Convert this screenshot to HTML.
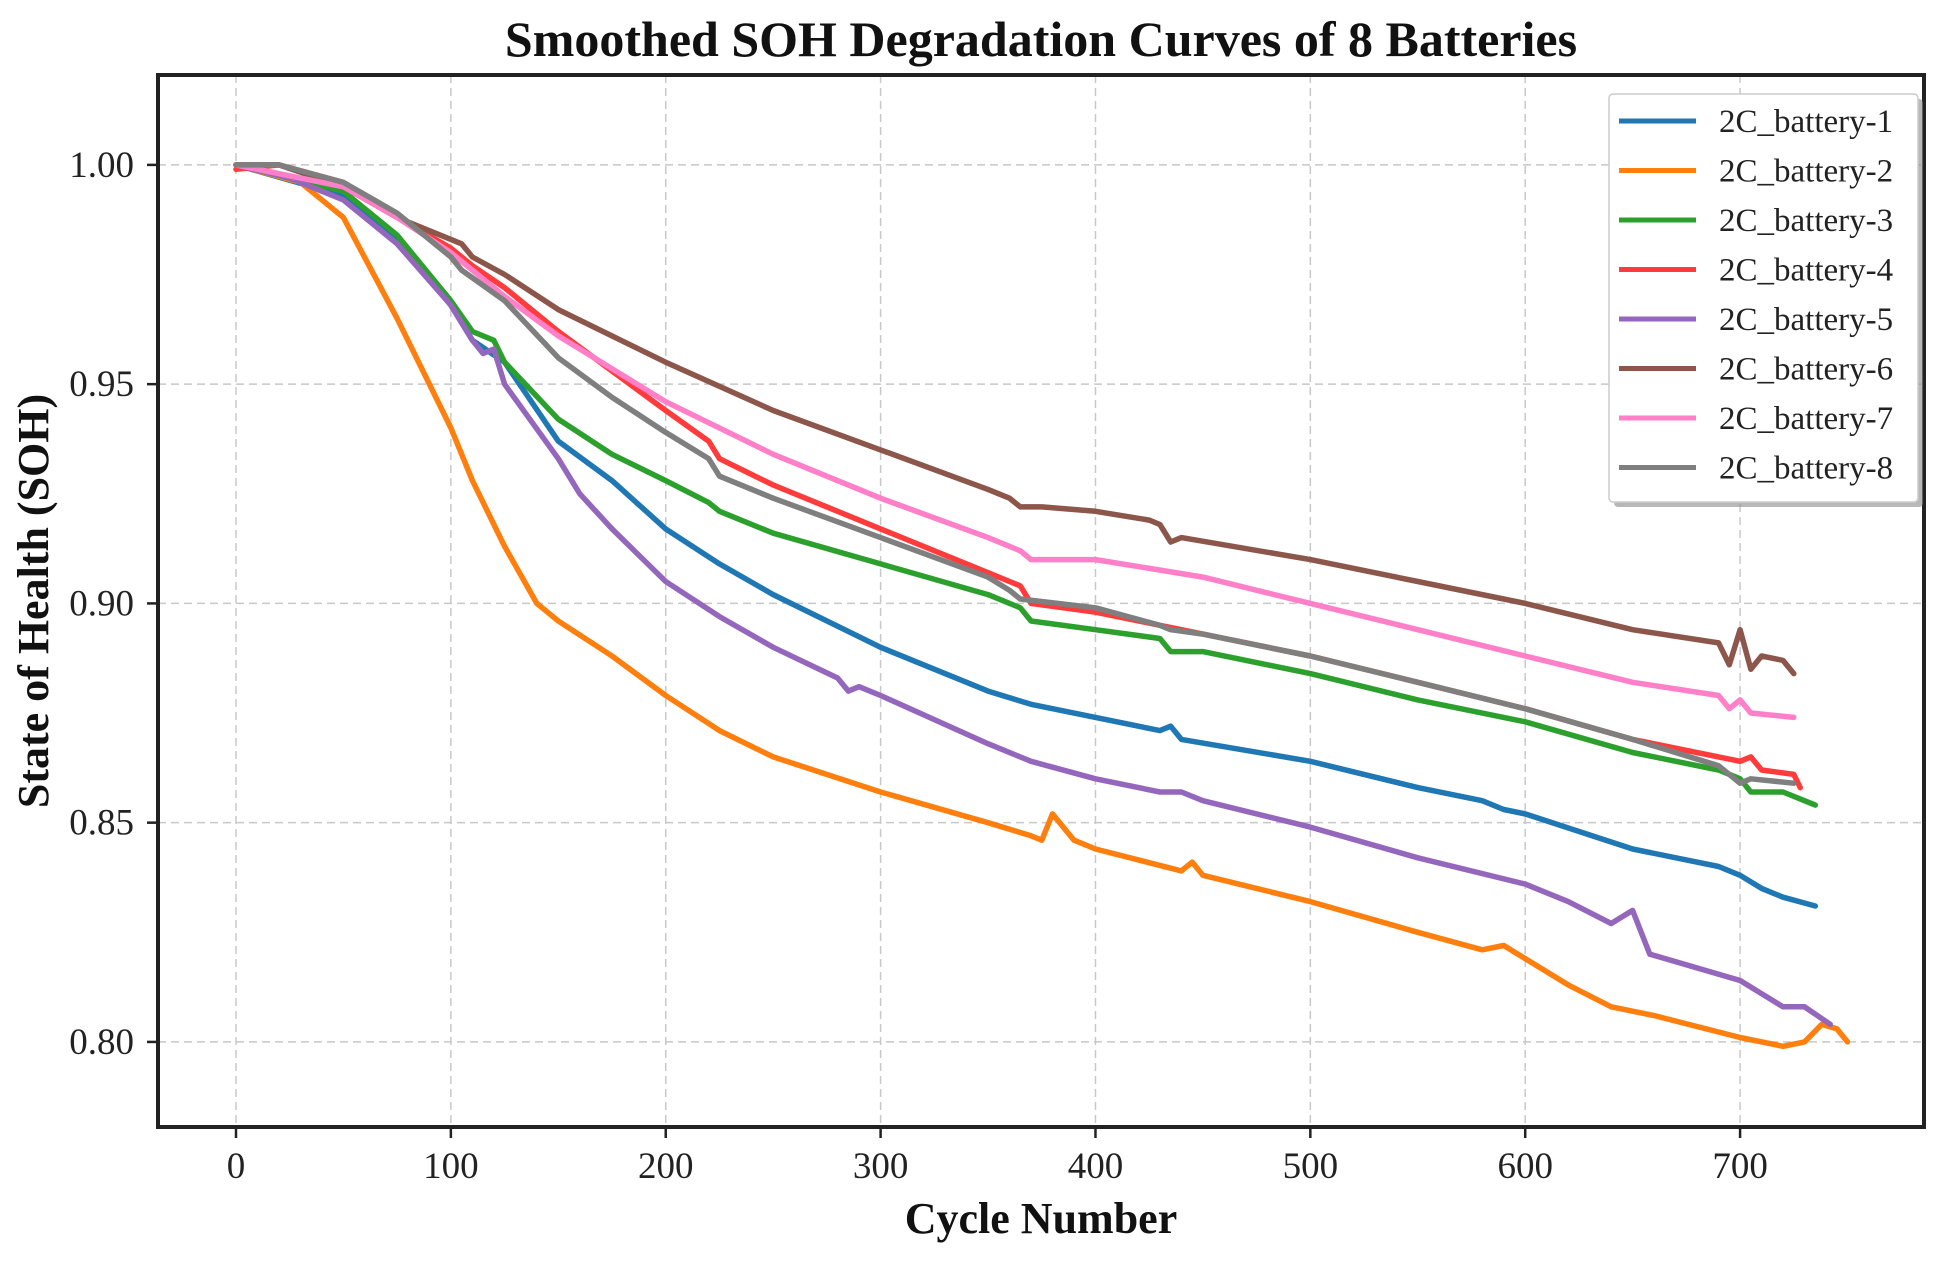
<!DOCTYPE html>
<html><head><meta charset="utf-8"><style>
html,body{margin:0;padding:0;background:#fff;}
svg{display:block;font-family:"Liberation Serif",serif;}
</style></head><body>
<svg id="chart" width="1950" height="1262" viewBox="0 0 1950 1262"></svg>
<script>
const seriesNames=["2C_battery-1","2C_battery-2","2C_battery-3","2C_battery-4","2C_battery-5","2C_battery-6","2C_battery-7","2C_battery-8"];
const seriesColors=["#1f77b4","#ff7f0e","#2ca02c","#ff3b3b","#9467bd","#8c564b","#ff7fc8","#7f7f7f"];
const xTicks=[0,100,200,300,400,500,600,700];
const yTicks=[0.80,0.85,0.90,0.95,1.00];
const b1=[[0,1.0],[50,0.993],[75,0.983],[100,0.968],[110,0.960],[125,0.955],[150,0.937],[175,0.928],[200,0.917],[225,0.909],[250,0.902],[300,0.890],[350,0.880],[370,0.877],[400,0.874],[430,0.871],[435,0.872],[440,0.869],[500,0.864],[550,0.858],[580,0.855],[590,0.853],[600,0.852],[650,0.844],[690,0.840],[700,0.838],[710,0.835],[720,0.833],[735,0.831]];
const b2=[[0,1.0],[30,0.996],[50,0.988],[75,0.965],[100,0.940],[110,0.928],[125,0.913],[140,0.900],[150,0.896],[175,0.888],[200,0.879],[225,0.871],[250,0.865],[300,0.857],[350,0.850],[370,0.847],[375,0.846],[380,0.852],[390,0.846],[400,0.844],[440,0.839],[445,0.841],[450,0.838],[500,0.832],[550,0.825],[580,0.821],[590,0.822],[600,0.819],[620,0.813],[640,0.808],[660,0.806],[700,0.801],[720,0.799],[730,0.800],[738,0.804],[745,0.803],[750,0.800]];
const b3=[[0,1.0],[50,0.994],[75,0.984],[100,0.969],[110,0.962],[120,0.960],[125,0.955],[150,0.942],[175,0.934],[200,0.928],[220,0.923],[225,0.921],[230,0.920],[250,0.916],[300,0.909],[350,0.902],[365,0.899],[370,0.896],[400,0.894],[430,0.892],[435,0.889],[450,0.889],[500,0.884],[550,0.878],[600,0.873],[650,0.866],[690,0.862],[700,0.860],[705,0.857],[720,0.857],[735,0.854]];
const b4=[[0,0.999],[20,1.0],[50,0.996],[75,0.988],[100,0.981],[110,0.977],[125,0.972],[150,0.962],[175,0.953],[200,0.944],[220,0.937],[225,0.933],[250,0.927],[300,0.917],[350,0.907],[365,0.904],[370,0.900],[400,0.898],[430,0.895],[450,0.893],[500,0.888],[550,0.882],[600,0.876],[650,0.869],[690,0.865],[700,0.864],[705,0.865],[710,0.862],[725,0.861],[728,0.858]];
const b5=[[0,1.0],[25,0.997],[50,0.992],[75,0.982],[100,0.968],[110,0.960],[115,0.957],[120,0.958],[125,0.950],[150,0.933],[160,0.925],[175,0.917],[200,0.905],[225,0.897],[250,0.890],[280,0.883],[285,0.880],[290,0.881],[300,0.879],[350,0.868],[370,0.864],[400,0.860],[430,0.857],[440,0.857],[450,0.855],[500,0.849],[550,0.842],[600,0.836],[620,0.832],[640,0.827],[650,0.830],[658,0.820],[700,0.814],[710,0.811],[720,0.808],[730,0.808],[742,0.804]];
const b6=[[0,1.0],[20,1.0],[50,0.995],[75,0.988],[100,0.983],[105,0.982],[110,0.979],[125,0.975],[150,0.967],[200,0.955],[250,0.944],[300,0.935],[350,0.926],[360,0.924],[365,0.922],[375,0.922],[400,0.921],[425,0.919],[430,0.918],[435,0.914],[440,0.915],[500,0.910],[550,0.905],[600,0.900],[650,0.894],[690,0.891],[695,0.886],[700,0.894],[705,0.885],[710,0.888],[720,0.887],[725,0.884]];
const b7=[[0,1.0],[50,0.995],[75,0.988],[100,0.980],[125,0.970],[150,0.961],[200,0.946],[250,0.934],[300,0.924],[350,0.915],[365,0.912],[370,0.910],[400,0.910],[450,0.906],[500,0.900],[550,0.894],[600,0.888],[650,0.882],[690,0.879],[695,0.876],[700,0.878],[705,0.875],[725,0.874]];
const b8=[[0,1.0],[20,1.0],[50,0.996],[75,0.989],[100,0.979],[105,0.976],[125,0.969],[150,0.956],[175,0.947],[200,0.939],[220,0.933],[225,0.929],[250,0.924],[300,0.915],[350,0.906],[360,0.903],[365,0.901],[400,0.899],[430,0.895],[435,0.894],[450,0.893],[500,0.888],[550,0.882],[600,0.876],[650,0.869],[690,0.863],[700,0.859],[705,0.860],[725,0.859]];
const allSeries=[b1,b2,b3,b4,b5,b6,b7,b8];

const NS="http://www.w3.org/2000/svg";
const svg=document.getElementById('chart');
const L=158,R=1924,T=75,B=1127;
const xMin=-36.3,xMax=785.6,yMin=0.7806,yMax=1.0205;
function sx(v){return L+(v-xMin)/(xMax-xMin)*(R-L);}
function sy(v){return B-(v-yMin)/(yMax-yMin)*(B-T);}
function mk(tag,attrs,parent){const e=document.createElementNS(NS,tag);for(const k in attrs)e.setAttribute(k,attrs[k]);(parent||svg).appendChild(e);return e;}

const grid=mk('g',{});


xTicks.forEach(t=>{mk('line',{x1:sx(t),x2:sx(t),y1:T,y2:B,stroke:'#c8c8c8','stroke-width':1.5,'stroke-dasharray':'8,5'},grid);});
yTicks.forEach(t=>{mk('line',{x1:L,x2:R,y1:sy(t),y2:sy(t),stroke:'#c8c8c8','stroke-width':1.5,'stroke-dasharray':'8,5'},grid);});

const lines=mk('g',{});


allSeries.forEach((s,i)=>{
  const p=mk('polyline',{points:s.map(d=>sx(d[0]).toFixed(1)+','+sy(d[1]).toFixed(1)).join(' '),fill:'none',stroke:seriesColors[i],'stroke-width':5.5,'stroke-linejoin':'round','stroke-linecap':'round'},lines);
  
  
});

const frame=mk('rect',{x:L,y:T,width:R-L,height:B-T,fill:'none',stroke:'#222','stroke-width':4});



const xa=mk('g',{});


xTicks.forEach(t=>{
  mk('line',{x1:sx(t),x2:sx(t),y1:B,y2:B+11,stroke:'#222','stroke-width':2.5},xa);
  const tx=mk('text',{x:sx(t),y:B+51,'text-anchor':'middle','font-size':37,fill:'#222'},xa);
  tx.textContent=t;
  
  
});
const ya=mk('g',{});


yTicks.forEach(t=>{
  mk('line',{x1:L-11,x2:L,y1:sy(t),y2:sy(t),stroke:'#222','stroke-width':2.5},ya);
  const tx=mk('text',{x:L-24,y:sy(t)+12,'text-anchor':'end','font-size':37,fill:'#222'},ya);
  tx.textContent=t.toFixed(2);
  
  
});

const title=mk('text',{x:(L+R)/2,y:56,'text-anchor':'middle','font-size':50,'font-weight':'bold',fill:'#111'});
title.textContent='Smoothed SOH Degradation Curves of 8 Batteries';


const xt=mk('text',{x:(L+R)/2,y:1233,'text-anchor':'middle','font-size':44,'font-weight':'bold',fill:'#111'});
xt.textContent='Cycle Number';


const yt=mk('text',{x:0,y:0,'text-anchor':'middle','font-size':44,'font-weight':'bold',fill:'#111',transform:'translate(48,'+((T+B)/2)+') rotate(-90)'});
yt.textContent='State of Health (SOH)';



const lg=mk('g',{});


mk('rect',{x:1614,y:99,width:309,height:408,fill:'#888',opacity:0.6,rx:4},lg);
mk('rect',{x:1609,y:94,width:309,height:408,fill:'#fff',stroke:'#ccc','stroke-width':1.5,rx:4},lg);
seriesNames.forEach((n,i)=>{
  const y=121+i*49.5;
  const e=mk('g',{},lg);
  
  
  mk('line',{x1:1619,x2:1696,y1:y,y2:y,stroke:seriesColors[i],'stroke-width':5},e);
  const t=mk('text',{x:1719,y:y+11,'font-size':33,fill:'#222'},e);
  t.textContent=n;
});
</script>
</body></html>
